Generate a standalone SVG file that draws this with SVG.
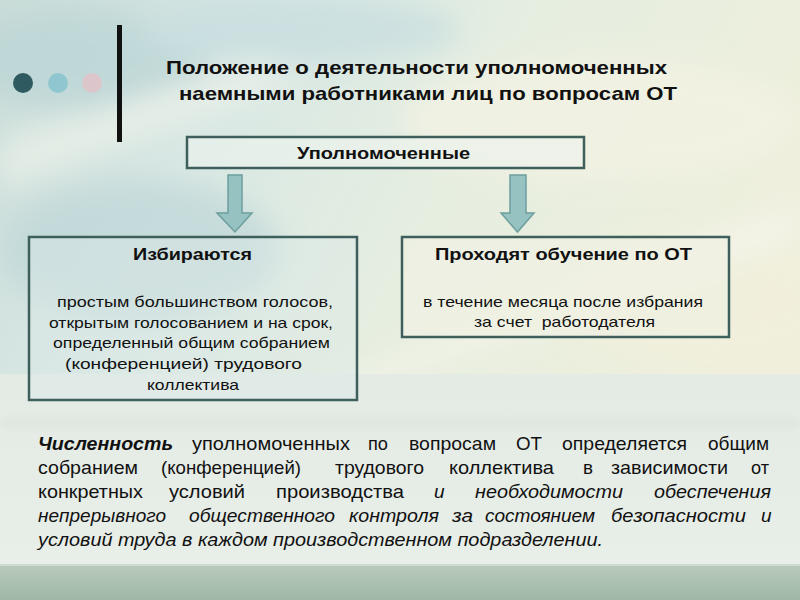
<svg xmlns="http://www.w3.org/2000/svg" width="800" height="600" viewBox="0 0 800 600">
<defs>
<linearGradient id="bgTop" x1="0" y1="0" x2="1" y2="0.4">
<stop offset="0" stop-color="#c9dcd8"/>
<stop offset="0.3" stop-color="#d9e8e4"/>
<stop offset="0.6" stop-color="#e6eee0"/>
<stop offset="1" stop-color="#efefdc"/>
</linearGradient>
<linearGradient id="bgBand" x1="0" y1="0" x2="0" y2="1">
<stop offset="0" stop-color="#e4ebe5"/>
<stop offset="1" stop-color="#e8eee8"/>
</linearGradient>
<linearGradient id="bgFoot" x1="0" y1="0" x2="0" y2="1">
<stop offset="0" stop-color="#b8cabc"/>
<stop offset="1" stop-color="#9fb7a6"/>
</linearGradient>
<filter id="blur" x="-20%" y="-20%" width="140%" height="140%"><feGaussianBlur stdDeviation="14"/></filter>
<filter id="soft" x="-5%" y="-100%" width="110%" height="300%"><feGaussianBlur stdDeviation="3"/></filter>
<style>
text{font-family:"Liberation Sans",Arial,sans-serif;fill:#111}
.title{font-size:19px;font-weight:bold}
.hd{font-size:16px;font-weight:bold}
.bd{font-size:14.5px;white-space:pre}
.para{font-size:19px}
.box{stroke:#3f5f5c;stroke-width:2.5}
.arrow{fill:#96c2c1;stroke:#6d9e9d;stroke-width:1.5}
</style>
</defs>
<rect x="0" y="0" width="800" height="600" fill="url(#bgTop)"/>
<g filter="url(#blur)" opacity="0.7">
<ellipse cx="90" cy="60" rx="120" ry="50" fill="#b9d4d6"/>
<ellipse cx="300" cy="30" rx="160" ry="35" fill="#c6dde0"/>
<ellipse cx="140" cy="250" rx="140" ry="70" fill="#bed6d8"/>
<ellipse cx="600" cy="120" rx="200" ry="60" fill="#f4f3e4"/>
<ellipse cx="700" cy="300" rx="140" ry="60" fill="#f2f0dc"/>
<path d="M330 380 L800 200 L800 240 L330 400 Z" fill="#f5f5ec"/>
<path d="M0 140 L260 60 L300 80 L0 190 Z" fill="#eef2ea"/>
</g>
<rect x="0" y="374" width="800" height="192" fill="url(#bgBand)"/>
<rect x="0" y="418" width="800" height="10" fill="#d9e3dc" opacity="0.6" filter="url(#soft)"/>
<rect x="0" y="565" width="800" height="35" fill="url(#bgFoot)"/>
<rect x="0" y="564" width="800" height="2" fill="#cfdad1"/>

<g id="decor">
<rect x="117" y="25" width="5" height="117" fill="#111"/>
<circle cx="23" cy="83" r="10" fill="#2f5a5f"/>
<circle cx="58" cy="83" r="10" fill="#8fc6cf"/>
<circle cx="92" cy="83" r="10" fill="#dcc6cc"/>
</g>

<g id="title">
<text class="title" x="166" y="74" textLength="501" lengthAdjust="spacingAndGlyphs">Положение о деятельности уполномоченных</text>
<text class="title" x="179" y="100" textLength="498" lengthAdjust="spacingAndGlyphs">наемными работниками лиц по вопросам ОТ</text>
</g>

<g id="connectors">
<path class="arrow" d="M228 175 H242 V213 H252 L235 232 L217 213 H228 Z"/>
<path class="arrow" d="M510 175 H526 V213 H534 L517.5 232 L501 213 H510 Z"/>
</g>

<g id="node-upolnomochennye">
<rect class="box" x="187" y="137" width="397" height="31" fill="#edf3ee" fill-opacity="0.6"/>
<text class="hd" x="297" y="159" textLength="173" lengthAdjust="spacingAndGlyphs">Уполномоченные</text>
</g>

<g id="node-izbirayutsya">
<rect class="box" x="29" y="237" width="328" height="163" fill="#dce9e6" fill-opacity="0.45"/>
<text class="hd" x="133" y="260" textLength="119" lengthAdjust="spacingAndGlyphs">Избираются</text>
<text class="bd" x="57" y="307" textLength="276" lengthAdjust="spacingAndGlyphs">простым большинством голосов,</text>
<text class="bd" x="49" y="328" textLength="284" lengthAdjust="spacingAndGlyphs">открытым голосованием и на срок,</text>
<text class="bd" x="53" y="348" textLength="277" lengthAdjust="spacingAndGlyphs">определенный общим собранием</text>
<text class="bd" x="65" y="369" textLength="237" lengthAdjust="spacingAndGlyphs">(конференцией) трудового</text>
<text class="bd" x="147" y="390" textLength="92" lengthAdjust="spacingAndGlyphs">коллектива</text>
</g>

<g id="node-obuchenie">
<rect class="box" x="402" y="237" width="327" height="100" fill="#eff1e2" fill-opacity="0.7"/>
<text class="hd" x="435" y="260" textLength="257" lengthAdjust="spacingAndGlyphs">Проходят обучение по ОТ</text>
<text class="bd" x="423" y="307" textLength="280" lengthAdjust="spacingAndGlyphs">в течение месяца после избрания</text>
<text class="bd" x="474" y="327" textLength="181" lengthAdjust="spacingAndGlyphs">за счет  работодателя</text>
</g>

<g id="paragraph">
<text class="para" y="450"><tspan x="38" font-weight="bold" font-style="italic" textLength="135" lengthAdjust="spacingAndGlyphs">Численность</tspan><tspan x="192" textLength="158" lengthAdjust="spacingAndGlyphs">уполномоченных</tspan><tspan x="368" textLength="20" lengthAdjust="spacingAndGlyphs">по</tspan><tspan x="409" textLength="87" lengthAdjust="spacingAndGlyphs">вопросам</tspan><tspan x="516" textLength="26" lengthAdjust="spacingAndGlyphs">ОТ</tspan><tspan x="562" textLength="125" lengthAdjust="spacingAndGlyphs">определяется</tspan><tspan x="708" textLength="61" lengthAdjust="spacingAndGlyphs">общим</tspan></text>
<text class="para" y="474"><tspan x="38" textLength="100" lengthAdjust="spacingAndGlyphs">собранием</tspan><tspan x="161" textLength="140" lengthAdjust="spacingAndGlyphs">(конференцией)</tspan><tspan x="335" textLength="89" lengthAdjust="spacingAndGlyphs">трудового</tspan><tspan x="449" textLength="105" lengthAdjust="spacingAndGlyphs">коллектива</tspan><tspan x="583" textLength="10" lengthAdjust="spacingAndGlyphs">в</tspan><tspan x="611" textLength="117" lengthAdjust="spacingAndGlyphs">зависимости</tspan><tspan x="751" textLength="18" lengthAdjust="spacingAndGlyphs">от</tspan></text>
<text class="para" y="498"><tspan x="38" textLength="105" lengthAdjust="spacingAndGlyphs">конкретных</tspan><tspan x="169" textLength="76" lengthAdjust="spacingAndGlyphs">условий</tspan><tspan x="276" textLength="128" lengthAdjust="spacingAndGlyphs">производства</tspan><tspan x="434" font-style="italic">и</tspan><tspan x="475" font-style="italic" textLength="148" lengthAdjust="spacingAndGlyphs">необходимости</tspan><tspan x="654" font-style="italic" textLength="117" lengthAdjust="spacingAndGlyphs">обеспечения</tspan></text>
<text class="para" y="522" font-style="italic"><tspan x="38" textLength="128" lengthAdjust="spacingAndGlyphs">непрерывного</tspan><tspan x="189" textLength="146" lengthAdjust="spacingAndGlyphs">общественного</tspan><tspan x="349" textLength="90" lengthAdjust="spacingAndGlyphs">контроля</tspan><tspan x="452" textLength="21" lengthAdjust="spacingAndGlyphs">за</tspan><tspan x="485" textLength="110" lengthAdjust="spacingAndGlyphs">состоянием</tspan><tspan x="611" textLength="135" lengthAdjust="spacingAndGlyphs">безопасности</tspan><tspan x="761">и</tspan></text>
<text class="para" y="546" font-style="italic" x="38" textLength="565" lengthAdjust="spacingAndGlyphs">условий труда в каждом производственном подразделении.</text>
</g>
</svg>
